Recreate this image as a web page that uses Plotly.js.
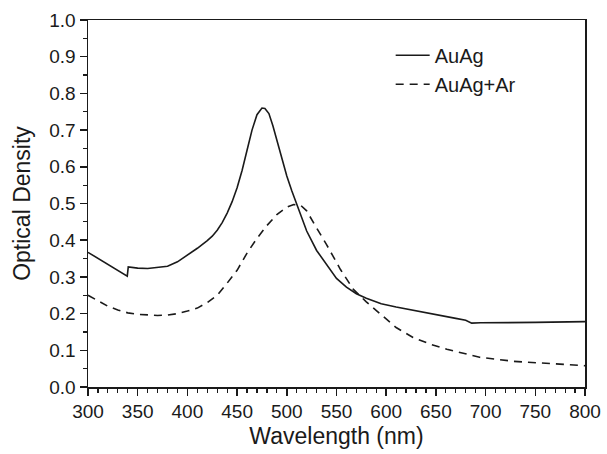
<!DOCTYPE html>
<html>
<head>
<meta charset="utf-8">
<script src="https://cdn.plot.ly/plotly-3.0.1.min.js"></script>
<style>html,body{margin:0;padding:0;background:#fff;}#chart{width:607px;height:454px;}</style>
</head>
<body>
<div id="chart"></div>
<script>
// AuAg (solid)
const auagWavelength = [300, 310, 320, 330, 339.5, 340.5, 350, 360, 370, 380, 390, 400, 410, 420, 425, 430, 435, 440, 445, 450, 455, 460, 465, 470, 475, 478, 482, 486, 490, 495, 500, 505, 510, 515, 520, 530, 540, 550, 560, 570, 580, 595, 610, 630, 650, 670, 680, 686, 695, 720, 750, 800];
const auagDensity = [0.367, 0.350, 0.333, 0.317, 0.302, 0.327, 0.324, 0.323, 0.325, 0.329, 0.341, 0.359, 0.378, 0.399, 0.411, 0.427, 0.448, 0.474, 0.505, 0.543, 0.590, 0.645, 0.700, 0.742, 0.760, 0.759, 0.745, 0.712, 0.672, 0.622, 0.575, 0.535, 0.497, 0.460, 0.425, 0.372, 0.333, 0.296, 0.272, 0.254, 0.242, 0.227, 0.218, 0.207, 0.198, 0.187, 0.182, 0.174, 0.175, 0.175, 0.176, 0.178];

// AuAg+Ar (dashed)
const auagArWavelength = [300, 310, 320, 330, 340, 350, 360, 370, 380, 390, 400, 410, 420, 430, 440, 450, 460, 470, 480, 490, 500, 507, 514, 520, 527, 540, 554, 567, 580, 594, 610, 627, 644, 661, 694, 728, 761, 800];
const auagArDensity = [0.250, 0.235, 0.220, 0.210, 0.202, 0.198, 0.196, 0.195, 0.196, 0.200, 0.207, 0.215, 0.230, 0.250, 0.283, 0.318, 0.365, 0.405, 0.440, 0.470, 0.490, 0.497, 0.495, 0.480, 0.447, 0.388, 0.320, 0.266, 0.232, 0.200, 0.162, 0.135, 0.117, 0.103, 0.081, 0.070, 0.065, 0.058];

const seriesNames = ["AuAg", "AuAg+Ar"];

const FONT = "'Liberation Sans', Arial, sans-serif";
const INK = "#1a1a1a";

const traces = [
  {x: auagWavelength, y: auagDensity, name: seriesNames[0], type: "scatter", mode: "lines",
   line: {color: INK, width: 1.6, dash: "solid"}},
  {x: auagArWavelength, y: auagArDensity, name: seriesNames[1], type: "scatter", mode: "lines",
   line: {color: INK, width: 1.6, dash: "8px,6px"}}
];

const axisCommon = {
  showgrid: false, zeroline: false, showline: true, mirror: true,
  linecolor: INK, linewidth: 1.5,
  ticks: "outside", ticklen: 7, tickwidth: 1.5, tickcolor: INK,
  tickfont: {family: FONT, size: 19, color: INK}
};

const layout = {
  width: 607, height: 454,
  margin: {l: 88, r: 22, t: 20, b: 67},
  paper_bgcolor: "#fff", plot_bgcolor: "#fff",
  font: {family: FONT, color: INK},
  showlegend: true,
  legend: {x: 0.609, y: 0.957, xanchor: "left", yanchor: "top", bgcolor: "rgba(0,0,0,0)",
           font: {family: FONT, size: 20, color: INK}, itemwidth: 34, tracegroupgap: 0},
  xaxis: Object.assign({}, axisCommon, {
    range: [300, 800], tick0: 300, dtick: 50,
    minor: {dtick: 10, ticks: "outside", ticklen: 4, tickwidth: 1.2, tickcolor: INK},
    title: {text: "Wavelength (nm)", font: {family: FONT, size: 23, color: INK}, standoff: 6}
  }),
  yaxis: Object.assign({}, axisCommon, {
    range: [0, 1], tick0: 0, dtick: 0.1, tickformat: ".1f",
    minor: {dtick: 0.05, ticks: "outside", ticklen: 4, tickwidth: 1.2, tickcolor: INK},
    title: {text: "Optical Density", font: {family: FONT, size: 23, color: INK}, standoff: 12}
  })
};

Plotly.newPlot("chart", traces, layout, {displayModeBar: false, staticPlot: true});
</script>
</body>
</html>
